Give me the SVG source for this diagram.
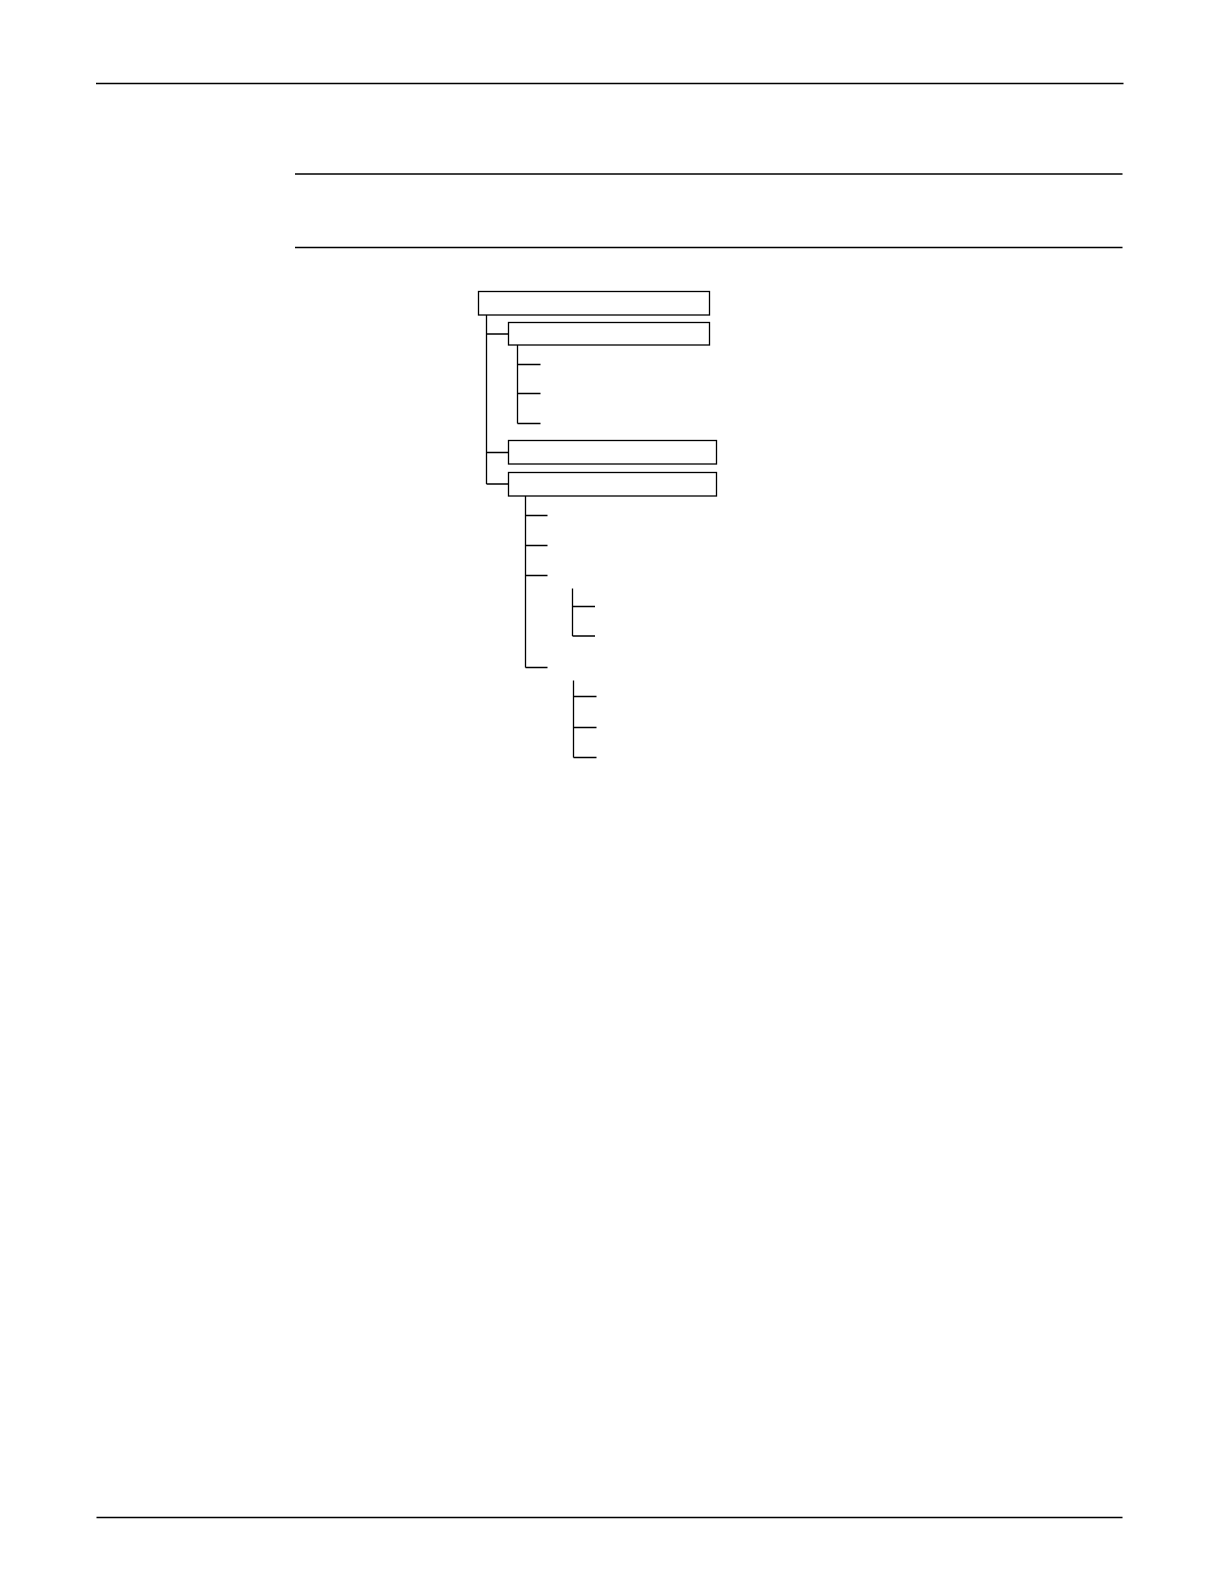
<svg xmlns="http://www.w3.org/2000/svg" width="1221" height="1585" viewBox="0 0 1221 1585">
<style>
.rule{stroke:#000;stroke-width:1.4;fill:none}
.box{fill:#fff;stroke:#000;stroke-width:1.3}
.con{stroke:#000;stroke-width:1.3;fill:none}
</style>
<rect width="1221" height="1585" fill="#fff"/>
<g id="rules">
<line class="rule" x1="96" y1="83.5" x2="1123.5" y2="83.5"/>
<line class="rule" x1="295" y1="174" x2="1122.5" y2="174"/>
<line class="rule" x1="295" y1="247.5" x2="1122.5" y2="247.5"/>
<line class="rule" x1="96.5" y1="1517.5" x2="1122.5" y2="1517.5"/>
</g>
<g id="connectors">
<path class="con" d="M486.5 315 V484 M486.5 334 H508.5 M486.5 452.5 H508.5 M486.5 484 H508.5"/>
<path class="con" d="M517.5 345 V423.5 M517.5 364.5 H540.5 M517.5 393.5 H540.5 M517.5 423.5 H540.5"/>
<path class="con" d="M525.5 496 V667.5 M525.5 515.5 H547.5 M525.5 545.5 H547.5 M525.5 575.5 H547.5 M525.5 667.5 H547.5"/>
<path class="con" d="M572.5 588.5 V636 M572.5 606.5 H595 M572.5 636 H595"/>
<path class="con" d="M573.5 680.5 V757.5 M573.5 696.5 H596.5 M573.5 727.5 H596.5 M573.5 757.5 H596.5"/>
</g>
<g id="node1"><rect class="box" x="478.5" y="291.5" width="231" height="23.5"/></g>
<g id="node2"><rect class="box" x="508.5" y="322.5" width="201" height="22.5"/></g>
<g id="node3"><rect class="box" x="508.5" y="440.5" width="208" height="23.5"/></g>
<g id="node4"><rect class="box" x="508.5" y="472.5" width="208" height="23.5"/></g>
</svg>
